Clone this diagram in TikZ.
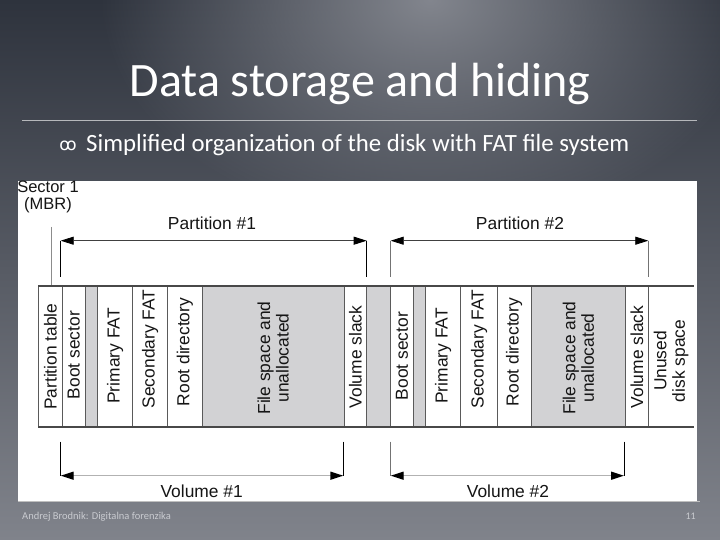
\documentclass[tikz,border=0pt]{standalone}
\usepackage{fontspec}
\setmainfont{Carlito}
\newfontfamily\arialf{Liberation Sans}
\newfontfamily\symf{DejaVu Sans}
\usetikzlibrary{arrows.meta,fadings}
\definecolor{bgtop}{HTML}{2E333D}
\definecolor{bgmid}{HTML}{343944}
\definecolor{bgbot}{HTML}{80838B}
\definecolor{glowc}{HTML}{878A92}
\definecolor{cellgray}{HTML}{D2D2D4}
\definecolor{ink}{HTML}{151515}
\definecolor{gridc}{HTML}{5A5A5A}
\definecolor{footc}{HTML}{C9CBD0}
\tikzfading[name=glowfade, inner color=transparent!5, outer color=transparent!100]
\tikzset{
  lbl/.style={font=\arialf\fontsize{17.4}{18.5}\selectfont, text=ink, inner sep=0pt},
  vlbl/.style={lbl, rotate=90, align=center},
  cellline/.style={gridc, line width=0.8pt},
  border/.style={draw=gridc!80!black, line width=1.8pt},
  dimarrow/.style={draw=black!75, line width=0.8pt, {Triangle[length=13pt,width=8pt,black]}-{Triangle[length=13pt,width=8pt,black]}},
  volarrow/.style={draw=black!30, line width=1.4pt, {Triangle[length=13pt,width=8pt,black]}-{Triangle[length=13pt,width=8pt,black]}},
  tick/.style={draw=black, line width=0.9pt},
  lighttick/.style={draw=black!55, line width=0.7pt},
}
\begin{document}
\begin{tikzpicture}[x=1pt,y=-1pt]
\useasboundingbox (0,0) rectangle (720,540);
% background
\shade[top color=bgtop, middle color=bgmid, bottom color=bgbot] (0,0) rectangle (720,540);
\fill[glowc, path fading=glowfade] (430,0) ellipse [x radius=330, y radius=230];
% title
\node[text=white, font=\fontsize{48}{52}\selectfont, inner sep=0pt] (title) at (360,84) {Data storage and hiding};
\draw[color=white!65!bgtop, line width=0.8pt] (22,120) coordinate (rulel) -- (696.5,120) coordinate (ruler);
\node[text=white, font=\symf\fontsize{17}{20}\selectfont, inner sep=0pt] (bullet) at (68,146) {ꝏ};
\node[text=white, font=\fontsize{24.8}{28}\selectfont, inner sep=0pt, anchor=west] (sub) at (86,145) {Simplified organization of the disk with FAT file system};
% panel
\fill[white] (18,181) rectangle (697,501);
\draw[black!25, line width=1pt] (18,501.5) -- (700,501.5);
% gray cells
\fill[cellgray] (85,286) rectangle (97.3,427);
\fill[cellgray] (202.3,286) rectangle (344,427);
\fill[cellgray] (366.7,286) rectangle (390.7,427);
\fill[cellgray] (413.3,286) rectangle (425.7,427);
\fill[cellgray] (531,286) rectangle (625.7,427);
% cell lines
\foreach \xx in {38.3,62.3,85,97.3,132.7,167.3,202.3,344,366.7,390.7,413.3,425.7,460.7,497.3,531,625.7,648.3}
  \draw[cellline] (\xx,286) -- (\xx,427);
\draw[border] (38,286) -- (694,286);
\draw[border] (38,427) -- (694,427);
% column labels
\node[vlbl] (c1) at (50.3,356.7) {Partition table};
\node[vlbl] (c2) at (73.7,355) {Boot sector};
\node[vlbl] (c3) at (115,356) {Primary FAT};
\node[vlbl] (c4) at (150,349) {Secondary FAT};
\node[vlbl] (c5) at (184.8,352) {Root directory};
\node[vlbl] (c6) at (273.2,358) {File space and\\unallocated};
\node[vlbl] (c7) at (355.3,357) {Volume slack};
\node[vlbl] (d2) at (402,356) {Boot sector};
\node[vlbl] (d3) at (443.2,356) {Primary FAT};
\node[vlbl] (d4) at (479,349) {Secondary FAT};
\node[vlbl] (d5) at (514.2,352) {Root directory};
\node[vlbl] (d6) at (578.3,358) {File space and\\unallocated};
\node[vlbl] (d7) at (637,357) {Volume slack};
\node[vlbl] (d8) at (671.2,361) {Unused\\disk space};
% sector 1
\node[lbl, align=center, font=\arialf\fontsize{16.5}{16.5}\selectfont] (sec) at (48,197) {Sector 1\\(MBR)};
\coordinate (secA) at (51,227);
\coordinate (secB) at (51,285);
\draw[black!45, line width=0.6pt] (secA) -- (secB);
% partition arrows
\coordinate (p1a) at (60.7,240.7); \coordinate (p1b) at (366.7,240.7);
\coordinate (p1at) at (60.7,277); \coordinate (p1bt) at (366.7,277);
\draw[tick] (p1a) -- (p1at);
\draw[tick] (p1b) -- (p1bt);
\draw[dimarrow] (p1a) -- (p1b);
\node[lbl] (part1) at (212,223) {Partition \#1};
\coordinate (p2a) at (390.7,240.7); \coordinate (p2b) at (648.3,240.7);
\coordinate (p2at) at (390.7,277); \coordinate (p2bt) at (648.3,277);
\draw[lighttick] (p2a) -- (p2at);
\draw[lighttick] (p2b) -- (p2bt);
\draw[dimarrow] (p2a) -- (p2b);
\node[lbl] (part2) at (520,223) {Partition \#2};
% volume arrows
\coordinate (v1a) at (60.7,475.7); \coordinate (v1b) at (343.3,475.7);
\coordinate (v1at) at (60.7,441.7); \coordinate (v1bt) at (343.3,441.7);
\draw[tick] (v1at) -- (v1a);
\draw[tick] (v1bt) -- (v1b);
\draw[volarrow] (v1a) -- (v1b);
\node[lbl] (vol1) at (201.7,491.5) {Volume \#1};
\coordinate (v2a) at (390.7,475.7); \coordinate (v2b) at (624,475.7);
\coordinate (v2at) at (390.7,441.7); \coordinate (v2bt) at (624,441.7);
\draw[lighttick] (v2at) -- (v2a);
\draw[tick] (v2bt) -- (v2b);
\draw[volarrow] (v2a) -- (v2b);
\node[lbl] (vol2) at (508,491.5) {Volume \#2};
% footer
\node[text=footc, font=\fontsize{10.5}{12}\selectfont, anchor=west, inner sep=0pt] (foot) at (22,516.5) {Andrej Brodnik: Digitalna forenzika};
\node[text=footc, font=\fontsize{10}{12}\selectfont, anchor=east, inner sep=0pt] (pg) at (696,516.5) {11};
\end{tikzpicture}
\end{document}
